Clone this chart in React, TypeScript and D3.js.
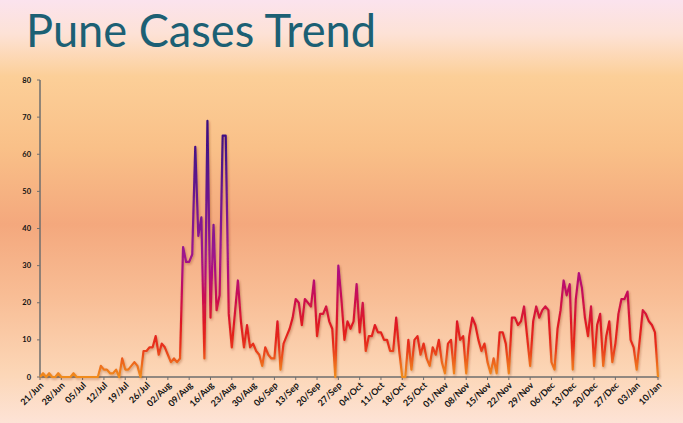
import React, { useEffect, useRef } from "react";
import * as d3 from "d3";

// daily new cases, one value per day starting 21/Jun
const dailyCases: number[] = [
  0, 1, 0, 1, 0, 0, 1, 0, 0, 0,
  0, 1, 0, 0, 0, 0, 0, 0, 0, 0,
  3, 2, 2, 1, 1, 2, 0, 5, 2, 2,
  3, 4, 3, 0, 7, 7, 8, 8, 11, 6,
  9, 8, 6, 4, 5, 4, 5, 35, 31, 31,
  33, 62, 38, 43, 5, 69, 16, 41, 18, 22,
  65, 65, 17, 8, 17, 26, 15, 8, 14, 8,
  9, 7, 6, 3, 8, 6, 5, 5, 15, 2,
  9, 11, 13, 16, 21, 20, 14, 21, 20, 19,
  26, 11, 17, 17, 19, 15, 13, 0, 30, 21,
  10, 15, 13, 15, 25, 12, 20, 7, 11, 11,
  14, 12, 12, 10, 10, 7, 7, 16, 7, 0,
  0, 10, 2, 10, 11, 6, 9, 5, 3, 8,
  6, 10, 4, 1, 9, 10, 1, 15, 10, 11,
  1, 11, 16, 14, 10, 7, 9, 4, 1, 5,
  1, 12, 12, 9, 1, 16, 16, 14, 15, 19,
  11, 3, 15, 19, 16, 18, 19, 18, 4, 2,
  13, 18, 26, 22, 25, 2, 21, 28, 24, 16,
  11, 19, 3, 14, 17, 3, 11, 15, 4, 9,
  17, 21, 21, 23, 10, 8, 2, 10, 18, 17,
  15, 14, 12, 0,
];

const startDate = new Date(2020, 5, 21);
const dates: Date[] = dailyCases.map((_, i) => d3.timeDay.offset(startDate, i));
const tickDates: Date[] = d3.range(0, dates.length, 7).map((i) => dates[i]);
const yTicks: number[] = [0, 10, 20, 30, 40, 50, 60, 70, 80];

const W = 683;
const H = 423;

const App = () => {
  const ref = useRef<SVGSVGElement>(null);

  useEffect(() => {
    if (!ref.current) return;
    const svg = d3.select(ref.current);
    svg.selectAll("*").remove();

    const x = d3
      .scaleTime()
      .domain([dates[0], dates[dates.length - 1]])
      .range([40, 658]);
    const y = d3.scaleLinear().domain([0, 80]).range([377, 80]);

    const defs = svg.append("defs");

    const bg = defs
      .append("linearGradient")
      .attr("id", "bg")
      .attr("x1", 0)
      .attr("y1", 0)
      .attr("x2", 0)
      .attr("y2", 1);
    [
      [0, "#fbe3ee"],
      [0.08, "#fde2d6"],
      [0.18, "#fccf98"],
      [0.35, "#f9c088"],
      [0.53, "#f4a87d"],
      [0.7, "#f8bd95"],
      [0.88, "#fcd6b6"],
      [1, "#fde3d6"],
    ].forEach(([o, c]) =>
      bg.append("stop").attr("offset", o as number).attr("stop-color", c as string)
    );

    const lg = defs
      .append("linearGradient")
      .attr("id", "lineGrad")
      .attr("gradientUnits", "userSpaceOnUse")
      .attr("x1", 0)
      .attr("x2", 0)
      .attr("y1", y(0))
      .attr("y2", y(70));
    [
      [0, "#f08c1e"],
      [0.05, "#ee6a1a"],
      [0.12, "#e8301a"],
      [0.2, "#e01a22"],
      [0.3, "#cc1050"],
      [0.4, "#b0107e"],
      [0.5, "#961490"],
      [0.65, "#74148f"],
      [0.85, "#4a1288"],
      [1, "#38107e"],
    ].forEach(([o, c]) =>
      lg.append("stop").attr("offset", o as number).attr("stop-color", c as string)
    );

    const shadow = defs.append("filter").attr("id", "shadow");
    shadow
      .append("feDropShadow")
      .attr("dx", 1)
      .attr("dy", 1.5)
      .attr("stdDeviation", 1)
      .attr("flood-color", "#7a2a10")
      .attr("flood-opacity", 0.35);

    svg.append("rect").attr("width", W).attr("height", H).attr("fill", "url(#bg)");

    svg
      .append("text")
      .attr("x", 26)
      .attr("y", 47)
      .attr("font-family", "Lato, 'Open Sans', sans-serif")
      .attr("font-size", 47)
      .attr("fill", "#1c6074")
      .attr("textLength", 350)
      .attr("lengthAdjust", "spacingAndGlyphs")
      .text("Pune Cases Trend");

    // y axis
    const yAxis = svg.append("g");
    yAxis
      .append("line")
      .attr("x1", 40)
      .attr("x2", 40)
      .attr("y1", y(80))
      .attr("y2", y(0))
      .attr("stroke", "#6e6e6e")
      .attr("stroke-width", 1.5);
    yAxis
      .selectAll("line.tick")
      .data(yTicks)
      .join("line")
      .attr("class", "tick")
      .attr("x1", 37)
      .attr("x2", 40)
      .attr("y1", (d) => y(d))
      .attr("y2", (d) => y(d))
      .attr("stroke", "#6e6e6e");
    yAxis
      .selectAll("text")
      .data(yTicks)
      .join("text")
      .attr("x", 31)
      .attr("y", (d) => y(d) + 2.5)
      .attr("text-anchor", "end")
      .attr("font-family", "Lato, 'Open Sans', sans-serif")
      .attr("font-weight", "bold")
      .attr("font-size", 7.5)
      .attr("fill", "#111")
      .text((d) => d);

    // x axis
    const xAxis = svg.append("g");
    xAxis
      .append("line")
      .attr("x1", 40)
      .attr("x2", 658)
      .attr("y1", y(0))
      .attr("y2", y(0))
      .attr("stroke", "#6e6e6e")
      .attr("stroke-width", 1.5);
    xAxis
      .selectAll("line.tick")
      .data(tickDates)
      .join("line")
      .attr("class", "tick")
      .attr("x1", (d) => x(d))
      .attr("x2", (d) => x(d))
      .attr("y1", y(0))
      .attr("y2", y(0) + 3)
      .attr("stroke", "#6e6e6e");
    const fmt = d3.timeFormat("%d/%b");
    xAxis
      .selectAll("text")
      .data(tickDates)
      .join("text")
      .attr(
        "transform",
        (d) => `translate(${x(d) + 4},${y(0) + 9}) rotate(-45)`
      )
      .attr("text-anchor", "end")
      .attr("font-family", "Lato, 'Open Sans', sans-serif")
      .attr("font-weight", "bold")
      .attr("font-size", 9)
      .attr("fill", "#111")
      .text((d) => fmt(d));

    const line = d3
      .line<number>()
      .x((_, i) => x(dates[i]))
      .y((d) => y(d));

    svg
      .append("path")
      .datum(dailyCases)
      .attr("d", line)
      .attr("fill", "none")
      .attr("stroke", "url(#lineGrad)")
      .attr("stroke-width", 2.2)
      .attr("stroke-linejoin", "round")
      .attr("filter", "url(#shadow)");
  }, []);

  return (
    <div style={{ position: "absolute", left: 0, top: 0 }}>
      <svg ref={ref} width={W} height={H} style={{ display: "block" }} />
    </div>
  );
};

export default App;
